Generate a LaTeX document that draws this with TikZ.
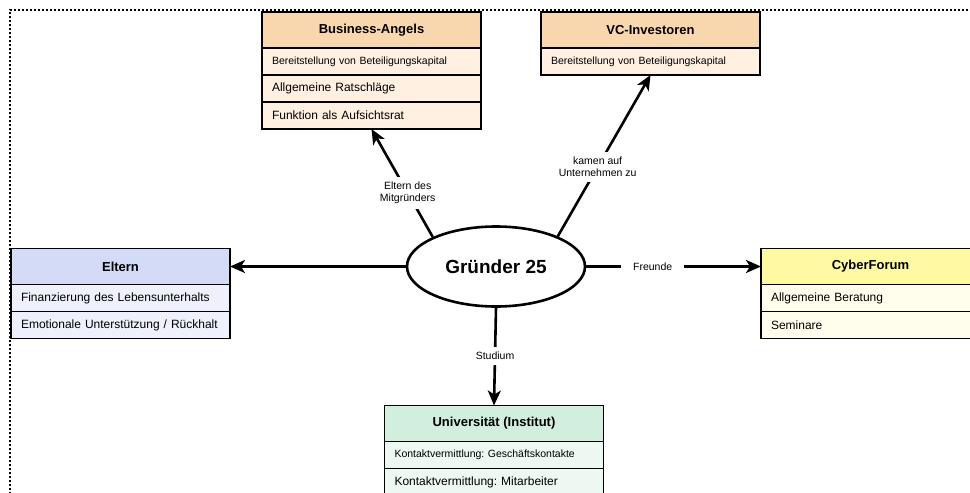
\documentclass[tikz,border=0pt]{standalone}
\usepackage{fontspec}
\setmainfont{Liberation Sans}
\usepackage{tikz}
\usepackage{xcolor}
\usetikzlibrary{arrows.meta,positioning,shapes.geometric}
\frenchspacing
\definecolor{BA_Head}{HTML}{F9D7AE}
\definecolor{BA_Row}{HTML}{FFF0E2}
\definecolor{EL_Head}{HTML}{D3DBF6}
\definecolor{EL_Row}{HTML}{EEF1FB}
\definecolor{CF_Head}{HTML}{FFF9A3}
\definecolor{CF_Row}{HTML}{FFFDEC}
\definecolor{UN_Head}{HTML}{D2EEDF}
\definecolor{UN_Row}{HTML}{EDF8F2}
\tikzset{
    head/.style={draw, line width=1.8pt, outer sep=0pt, inner sep=0pt,
        minimum width=219pt, minimum height=36pt,
        font=\fontsize{13}{15}\selectfont\bfseries},
    item/.style={draw, line width=1.8pt, outer sep=0pt, inner xsep=10pt, inner ysep=0pt,
        text width=199pt, align=left, minimum height=27pt,
        font=\fontsize{12}{14}\selectfont},
    smallitem/.style={item, font=\fontsize{10.5}{12}\selectfont},
    link/.style={-{Stealth[length=15pt, width=13pt, inset=4pt]}, line width=2.6pt},
    lbl/.style={fill=white, align=center, inner xsep=9pt, inner ysep=5pt, font=\fontsize{10.5}{12.5}\selectfont}
}

\begin{document}
\begin{tikzpicture}[x=1pt, y=-1pt]
    \useasboundingbox (0,0) rectangle (970,493);

    % Frame
    \draw[line width=1.6pt, dash pattern=on 2pt off 2pt] (10,510) -- (10,10) -- (990,10);

    % Founder
    \node[ellipse, draw, line width=2.6pt, minimum width=178pt, minimum height=80pt,
        font=\fontsize{19}{22}\selectfont\bfseries] (g) at (496,266.5) {Gründer 25};

    % Business-Angels
    \node[head, fill=BA_Head] (ba) at (371.5,30) {Business-Angels};
    \node[smallitem, fill=BA_Row, below=0pt of ba] (ba1) {Bereitstellung von Beteiligungskapital};
    \node[item, fill=BA_Row, below=0pt of ba1] (ba2) {Allgemeine Ratschläge};
    \node[item, fill=BA_Row, below=0pt of ba2] (ba3) {Funktion als Aufsichtsrat};

    % VC-Investoren
    \node[head, fill=BA_Head] (vc) at (650.5,30) {VC-Investoren};
    \node[smallitem, fill=BA_Row, below=0pt of vc] (vc1) {Bereitstellung von Beteiligungskapital};

    % Eltern
    \node[head, fill=EL_Head] (el) at (120.5,266.5) {Eltern};
    \node[item, fill=EL_Row, below=0pt of el] (el1) {Finanzierung des Lebensunterhalts};
    \node[item, fill=EL_Row, below=0pt of el1] (el2) {Emotionale Unterstützung / Rückhalt};

    % CyberForum
    \node[head, fill=CF_Head] (cf) at (870.5,266.5) {CyberForum};
    \node[item, fill=CF_Row, below=0pt of cf] (cf1) {Allgemeine Beratung};
    \node[item, fill=CF_Row, below=0pt of cf1] (cf2) {Seminare};

    % Universitaet
    \node[head, fill=UN_Head] (un) at (494,423.5) {Universität (Institut)};
    \node[smallitem, fill=UN_Row, below=0pt of un] (un1) {Kontaktvermittlung: Geschäftskontakte};
    \node[item, fill=UN_Row, below=0pt of un1] (un2) {Kontaktvermittlung: Mitarbeiter};

    % Connections
    \draw[link] (g.155) -- node[lbl, pos=0.41] {Eltern des\\Mitgründers} (ba3.south);
    \draw[link] (g.26) -- node[lbl, pos=0.43] {kamen auf\\Unternehmen zu} (vc1.south);
    \draw[link] (g.west) -- (el.east);
    \draw[link] (g.east) -- node[lbl, pos=0.38, inner xsep=12pt] {Freunde} (cf.west);
    \draw[link] (g.south) -- node[lbl, pos=0.49] {Studium} (un.north);

\end{tikzpicture}
\end{document}
